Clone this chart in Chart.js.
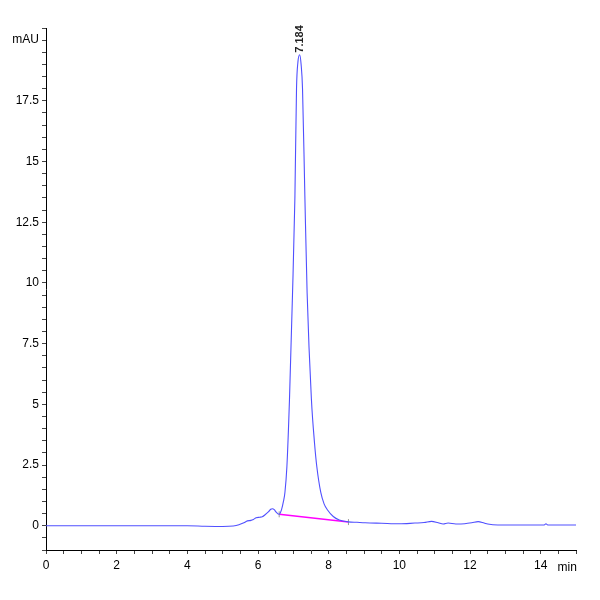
<!DOCTYPE html>
<html>
<head>
<meta charset="utf-8">
<title>Chromatogram</title>
<script src="https://cdn.jsdelivr.net/npm/chart.js@4/dist/chart.umd.min.js"></script>
<style>
  html, body { margin: 0; padding: 0; background: #fff; }
  #wrap { width: 600px; height: 600px; position: relative; }
</style>
</head>
<body>
<div id="wrap"><canvas id="chrom"></canvas></div>
<script>
// Retention time (min) and signal (mAU)
const times = [
  0, 1, 2, 3, 4, 4.5, 5.0, 5.3, 5.46, 5.6, 5.7, 5.8, 5.87, 5.95, 6.05, 6.12,
  6.2, 6.3, 6.36, 6.41, 6.46, 6.52, 6.6, 6.666, 6.72, 6.762, 6.818, 6.891,
  6.976, 7.044, 7.09, 7.13, 7.18, 7.22, 7.26, 7.326, 7.39, 7.512, 7.6, 7.664,
  7.777, 7.87, 7.963, 8.13, 8.3, 8.56, 8.8, 9.03, 9.5, 10.0, 10.44, 10.7,
  10.91, 11.1, 11.24, 11.38, 11.6, 11.85, 12.05, 12.23, 12.4, 12.5, 12.79,
  13.5, 14.1, 14.15, 14.2, 15,
];
const signal = [
  0, 0, 0, 0, 0, -0.02, -0.03, -0.01, 0.04, 0.12, 0.2, 0.22, 0.26, 0.33, 0.35, 0.37,
  0.45, 0.58, 0.68, 0.7, 0.66, 0.55, 0.47, 0.66, 1.0, 1.37, 2.44, 5.2,
  9.5, 13.5, 18.0, 19.1, 19.4, 19.0, 18.0, 13.6, 9.6, 5.2, 3.4, 2.44,
  1.37, 0.9, 0.66, 0.38, 0.24, 0.16, 0.14, 0.12, 0.1, 0.08, 0.11, 0.13,
  0.18, 0.12, 0.07, 0.11, 0.07, 0.08, 0.12, 0.17, 0.11, 0.07, 0.03,
  0.03, 0.03, 0.08, 0.03, 0.03,
];

// Integration baseline under the main peak
const baseTimes = [6.6, 8.56];
const baseValues = [0.47, 0.15];

const peakTime = 7.184;
const peakLabel = '7.184';
const peakHeight = 19.4;

const yLabelEvery = 2.5;
const xLabelEvery = 2;

const toPoints = (xs, ys) => xs.map((x, i) => ({ x, y: ys[i] }));

const isMultiple = (v, step) => Math.abs(v / step - Math.round(v / step)) < 1e-6;

const tickFont = { family: '"Liberation Sans Narrow", "Liberation Sans", Arial, sans-serif', size: 12 };

// Draws the peak annotation and the x axis unit
const annotations = {
  id: 'annotations',
  afterDatasetsDraw(chart) {
    const { ctx, scales: { x, y } } = chart;
    ctx.save();
    ctx.fillStyle = '#222';
    ctx.font = 'bold 11px "Liberation Sans", Arial, sans-serif';
    ctx.translate(x.getPixelForValue(peakTime), y.getPixelForValue(peakHeight) - 2);
    ctx.rotate(-Math.PI / 2);
    ctx.textAlign = 'left';
    ctx.textBaseline = 'middle';
    ctx.fillText(peakLabel, 0, 0);
    ctx.restore();

    ctx.save();
    ctx.fillStyle = '#000';
    ctx.font = '12px "Liberation Sans Narrow", "Liberation Sans", Arial, sans-serif';
    ctx.textAlign = 'center';
    ctx.textBaseline = 'top';
    ctx.fillText('min', x.getPixelForValue(14.75), x.bottom - 50 + 12);
    ctx.restore();
  },
};

new Chart(document.getElementById('chrom'), {
  type: 'line',
  data: {
    datasets: [
      {
        label: 'Signal',
        data: toPoints(times, signal),
        borderColor: 'rgb(80,80,255)',
        borderWidth: 1.1,
        pointRadius: 0,
        fill: false,
        cubicInterpolationMode: 'monotone',
        order: 1,
      },
      {
        label: 'Baseline',
        data: toPoints(baseTimes, baseValues),
        borderColor: 'rgb(255,0,255)',
        borderWidth: 1.5,
        pointRadius: 3,
        pointStyle: 'line',
        rotation: 90,
        pointBorderColor: '#999',
        pointBorderWidth: 1,
        fill: false,
        order: 2,
      },
    ],
  },
  options: {
    responsive: true,
    maintainAspectRatio: false,
    animation: false,
    layout: { padding: { top: 28, right: 24, left: 0, bottom: 0 } },
    plugins: {
      legend: { display: false },
      tooltip: { enabled: false },
    },
    scales: {
      x: {
        type: 'linear',
        min: 0,
        max: 15,
        afterFit(scale) { scale.height = 50; },
        border: { color: '#000', width: 1 },
        grid: { drawOnChartArea: false, drawTicks: true, tickLength: 4, color: '#444' },
        ticks: {
          stepSize: 0.5,
          autoSkip: false,
          maxRotation: 0,
          color: '#000',
          padding: 4,
          font: tickFont,
          callback: v => (isMultiple(v, xLabelEvery) && v < 15 ? String(v) : ''),
        },
      },
      y: {
        type: 'linear',
        min: -1,
        max: 20.5,
        afterFit(scale) { scale.width = 46; },
        border: { color: '#000', width: 1 },
        grid: { drawOnChartArea: false, drawTicks: true, tickLength: 4, color: '#444' },
        ticks: {
          stepSize: 0.5,
          autoSkip: false,
          color: '#000',
          padding: 3,
          font: tickFont,
          callback(v) {
            if (isMultiple(v, 20)) return v === 0 ? '0' : 'mAU';
            return isMultiple(v, yLabelEvery) && v >= 0 ? String(v) : '';
          },
        },
      },
    },
  },
  plugins: [annotations],
});
</script>
</body>
</html>
